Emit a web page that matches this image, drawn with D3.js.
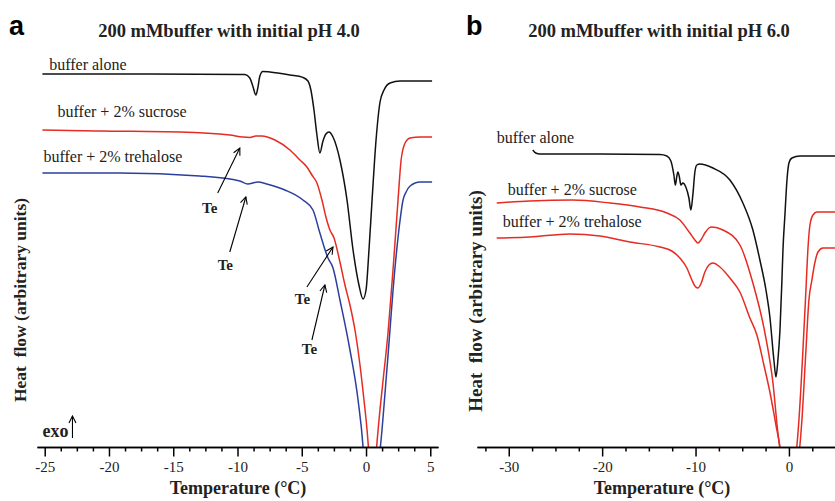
<!DOCTYPE html>
<html>
<head>
<meta charset="utf-8">
<script src="https://cdn.jsdelivr.net/npm/d3@7"></script>
<style>
  body { margin: 0; background: #fff; }
  svg { display: block; }
  .serif { font-family: "Liberation Serif", "Times New Roman", serif; }
  .tick text { font-family: "Liberation Serif", "Times New Roman", serif; font-size: 15px; }
</style>
</head>
<body>
<svg id="chart" width="835" height="501"></svg>
<script>
// ---- data (temperature in °C, heat flow in arbitrary units) ----

// panel a : initial pH 4.0
const aloneA = [
  [-25.18, 93.25], [-16.84, 93.25], [-9.43, 93.1], [-9.04, 92.25], [-8.81, 90.25], [-8.57, 88.0],
  [-8.42, 89.75], [-8.26, 92.75], [-8.03, 93.9], [-7.48, 93.75], [-5.92, 93.0], [-4.91, 92.4],
  [-4.52, 91.5], [-4.29, 89.25], [-4.05, 84.25], [-3.82, 78.0], [-3.59, 73.5], [-3.35, 76.5],
  [-3.12, 78.25], [-2.88, 78.75], [-2.57, 77.5], [-2.03, 71.75], [-1.48, 61.75], [-1.01, 49.25],
  [-0.55, 40.5], [-0.23, 37.0], [0.0, 39.25], [0.23, 49.25], [0.47, 61.75], [0.78, 76.75],
  [1.09, 86.25], [1.40, 89.25], [1.87, 91.0], [2.65, 91.5], [5.14, 91.5]
];
const sucroseA = [
  [-25.18, 79.25], [-20.73, 79.0], [-14.5, 78.75], [-10.6, 78.0], [-9.59, 77.5], [-9.04, 77.4],
  [-8.57, 77.75], [-8.11, 77.75], [-7.09, 76.75], [-5.92, 74.25], [-5.14, 71.75], [-4.6, 70.0],
  [-4.21, 68.0], [-3.82, 66.0], [-3.43, 61.75], [-3.12, 57.5], [-2.81, 54.25], [-2.49, 52.25],
  [-2.03, 46.25], [-1.64, 40.5], [-1.25, 35.5], [-0.86, 29.25], [-0.47, 20.5], [-0.16, 11.75],
  [0.08, 4.25], [0.23, -2.0], [0.31, -6.0], [0.70, -6.0], [0.78, -2.0], [1.01, 6.75],
  [1.33, 16.75], [1.71, 28.5], [2.10, 44.25], [2.49, 61.75], [2.73, 71.75], [3.04, 76.0],
  [3.43, 77.25], [4.21, 77.5], [5.14, 77.5]
];
const trehaloseA = [
  [-25.18, 68.5], [-19.17, 68.5], [-12.94, 67.75], [-9.82, 66.5], [-9.2, 65.75], [-8.42, 66.25],
  [-7.72, 65.75], [-6.31, 64.25], [-4.91, 61.75], [-4.13, 59.25], [-3.59, 53.5], [-2.96, 47.25],
  [-2.57, 44.75], [-2.03, 36.75], [-1.25, 24.25], [-0.62, 11.75], [-0.23, 0], [-0.16, -3.25],
  [0.0, -7.0], [0.86, -7.0], [1.01, -3.25], [1.17, 1.75], [1.64, 20.0], [2.26, 45.0],
  [2.65, 56.75], [2.88, 61.75], [3.12, 63.75], [3.43, 65.25], [4.21, 66.25], [5.14, 66.25]
];

// panel b : initial pH 6.0
const aloneB = [
  [-27.43, 74.25], [-27.11, 73.5], [-26.68, 73.25], [-20.25, 73.25], [-13.82, 73.1], [-13.07, 72.75],
  [-12.64, 71.5], [-12.32, 68.0], [-12.16, 65.5], [-12.0, 67.75], [-11.89, 68.75], [-11.73, 67.5],
  [-11.57, 65.5], [-11.36, 66.0], [-11.04, 65.0], [-10.71, 62.25], [-10.5, 59.25], [-10.29, 63.0],
  [-10.07, 68.75], [-9.86, 70.5], [-9.54, 70.75], [-8.14, 69.75], [-6.32, 66.75], [-4.93, 61.0],
  [-3.86, 54.25], [-3.11, 46.75], [-2.46, 39.25], [-2.04, 32.5], [-1.61, 21.75], [-1.39, 17.5],
  [-1.18, 21.75], [-0.96, 29.25], [-0.75, 41.75], [-0.64, 49.25], [-0.43, 58.0], [-0.21, 66.75],
  [0.0, 71.0], [0.32, 72.25], [1.18, 72.75], [4.93, 72.75]
];
const sucroseB = [
  [-31.29, 61.0], [-27.75, 61.5], [-23.14, 61.75], [-19.18, 61.0], [-15.96, 60.0], [-13.07, 58.5],
  [-11.68, 56.75], [-10.61, 53.5], [-10.07, 51.75], [-9.75, 51.0], [-9.43, 51.75], [-9.0, 53.5],
  [-8.57, 54.75], [-8.25, 55.0], [-7.07, 54.25], [-5.25, 50.5], [-3.86, 41.0], [-2.57, 28.5],
  [-1.71, 16.0], [-1.18, 3.5], [-0.86, -2.0], [-0.54, -5.75], [0.43, -5.75], [0.75, -2.0],
  [1.07, 6.75], [1.5, 24.25], [1.82, 39.25], [2.04, 49.75], [2.25, 55.5], [2.57, 58.0],
  [3.0, 58.75], [4.93, 58.75]
];
const trehaloseB = [
  [-31.29, 52.25], [-27.75, 52.5], [-23.46, 53.25], [-20.25, 52.75], [-17.04, 51.25], [-13.82, 50.0],
  [-12.54, 49.0], [-11.68, 47.25], [-10.93, 44.75], [-10.39, 41.75], [-10.07, 40.25], [-9.75, 39.75],
  [-9.43, 40.75], [-9.0, 43.75], [-8.57, 45.5], [-8.14, 46.0], [-7.39, 45.0], [-6.32, 42.25],
  [-5.25, 38.75], [-4.18, 32.25], [-3.43, 28.0], [-2.68, 20.5], [-2.04, 13.75], [-1.39, 5.5],
  [-0.96, 0], [-0.75, -3.25], [-0.43, -6.25], [0.75, -6.25], [1.07, -2.0], [1.39, 6.75],
  [1.82, 24.25], [2.14, 36.75], [2.46, 41.75], [2.79, 46.25], [3.11, 48.75], [3.64, 49.75],
  [4.93, 49.75]
];

// axis ticks
const majorTicksA = [-25, -20, -15, -10, -5, 0, 5];
const minorTicksA = d3.range(-25, 5.01, 1.25).filter(t => t % 5 !== 0);
const majorTicksB = [-30, -20, -10, 0];
const minorTicksB = d3.range(-32.5, 2.51, 2.5).filter(t => t % 10 !== 0);

// text labels (position in data units)
const seriesLabelsA = [
  {text: "buffer alone", t: -24.65, v: 94.25},
  {text: "buffer + 2% sucrose", t: -24.0, v: 82.5},
  {text: "buffer + 2% trehalose", t: -25.1, v: 71.25}
];
const seriesLabelsB = [
  {text: "buffer alone", t: -31.29, v: 76.1},
  {text: "buffer + 2% sucrose", t: -30.1, v: 63.0},
  {text: "buffer + 2% trehalose", t: -30.64, v: 55.0}
];
// Te arrows: tail -> head, and label spot
const teMarks = [
  {from: [-11.54, 63.5], to: [-9.82, 74.75], label: [-12.16, 58.5]},
  {from: [-10.6, 48.75], to: [-9.35, 62.5], label: [-10.95, 44.25]},
  {from: [-4.6, 40.0], to: [-2.57, 50.0], label: [-4.95, 35.75]},
  {from: [-4.21, 26.75], to: [-3.2, 40.5], label: [-4.4, 23.25]}
];

const RED = "#e62b22", BLUE = "#2b3f9e", BLACK = "#111";

const svg = d3.select("#chart");
const AXIS_Y = 447;
const y = d3.scaleLinear().domain([0, 100]).range([AXIS_Y, 47]);

// arrow heads
svg.append("defs").append("marker")
  .attr("id", "arrow")
  .attr("viewBox", "-9 -5 10 10")
  .attr("refX", 0).attr("refY", 0)
  .attr("markerWidth", 10).attr("markerHeight", 10)
  .attr("markerUnits", "userSpaceOnUse")
  .attr("orient", "auto")
  .append("path")
  .attr("d", "M-7,-3.5L0,0L-7,3.5")
  .attr("fill", "none").attr("stroke", "#000").attr("stroke-width", 1.1);

svg.select("defs").append("clipPath").attr("id", "clip")
  .append("rect").attr("x", 0).attr("y", 0).attr("width", 835).attr("height", AXIS_Y);

function drawPanel(opt) {
  const x = d3.scaleLinear().domain(opt.domain).range(opt.range);
  const g = svg.append("g");

  const line = d3.line()
    .x(d => x(d[0]))
    .y(d => y(d[1]))
    .curve(d3.curveMonotoneX);

  g.append("g").attr("clip-path", "url(#clip)")
    .selectAll("path")
    .data(opt.series)
    .join("path")
    .attr("d", d => line(d.values))
    .attr("fill", "none")
    .attr("stroke", d => d.color)
    .attr("stroke-width", 1.5)
    .attr("stroke-linejoin", "round");

  // minor ticks
  g.append("g")
    .attr("transform", `translate(0,${AXIS_Y})`)
    .call(d3.axisBottom(x).tickValues(opt.minor).tickSize(4.5).tickSizeOuter(0).tickFormat(""))
    .call(s => s.selectAll("line, path").attr("stroke", "#000").attr("stroke-width", 1.5));

  // major ticks + labels
  g.append("g")
    .attr("transform", `translate(0,${AXIS_Y})`)
    .call(d3.axisBottom(x).tickValues(opt.major).tickSize(9.5).tickSizeOuter(0)
      .tickFormat(d => String(d)).tickPadding(5))
    .call(s => s.selectAll("line, path").attr("stroke", "#000").attr("stroke-width", 1.5))
    .call(s => s.selectAll("text").attr("fill", "#222"));

  // series labels
  g.selectAll("text.series")
    .data(opt.labels)
    .join("text")
    .attr("class", "series serif")
    .attr("x", d => x(d.t))
    .attr("y", d => y(d.v))
    .attr("font-size", 16)
    .attr("fill", "#222")
    .text(d => d.text);

  // title + panel letter
  g.append("text").attr("class", "serif")
    .attr("x", opt.titleX).attr("y", 37)
    .attr("text-anchor", "middle")
    .attr("font-size", 18.5).attr("font-weight", "bold").attr("fill", "#222")
    .text(opt.title);
  g.append("text")
    .attr("x", opt.letterX).attr("y", 35)
    .attr("font-family", "Liberation Sans, Arial, sans-serif")
    .attr("font-size", 27).attr("font-weight", "bold")
    .text(opt.letter);

  // axis titles
  g.append("text").attr("class", "serif")
    .attr("x", opt.xLabelX).attr("y", 494)
    .attr("text-anchor", "middle")
    .attr("font-size", 18).attr("font-weight", "bold").attr("fill", "#222")
    .text("Temperature (°C)");
  g.append("text").attr("class", "serif")
    .attr("transform", `translate(${opt.yLabelX},${opt.yLabelY}) rotate(-90)`)
    .attr("text-anchor", "middle")
    .attr("font-size", opt.yLabelSize).attr("font-weight", "bold").attr("fill", "#222")
    .attr("xml:space", "preserve")
    .text("Heat  flow (arbitrary units)");

  return {g, x};
}

const pa = drawPanel({
  domain: [-25.6, 5.6], range: [37, 438],
  series: [
    {values: aloneA, color: BLACK},
    {values: sucroseA, color: RED},
    {values: trehaloseA, color: BLUE}
  ],
  major: majorTicksA, minor: minorTicksA, labels: seriesLabelsA,
  title: "200 mMbuffer with initial pH 4.0", titleX: 229,
  letter: "a", letterX: 9,
  xLabelX: 238, yLabelX: 26, yLabelY: 300, yLabelSize: 17.5
});

drawPanel({
  domain: [-33.4, 4.9], range: [477, 834.7],
  series: [
    {values: aloneB, color: BLACK},
    {values: sucroseB, color: RED},
    {values: trehaloseB, color: RED}
  ],
  major: majorTicksB, minor: minorTicksB, labels: seriesLabelsB,
  title: "200 mMbuffer with initial pH 6.0", titleX: 659,
  letter: "b", letterX: 466,
  xLabelX: 662, yLabelX: 482, yLabelY: 301, yLabelSize: 19
});

// Te annotations (panel a)
const xa = pa.x;
pa.g.selectAll("line.te")
  .data(teMarks)
  .join("line")
  .attr("class", "te")
  .attr("x1", d => xa(d.from[0])).attr("y1", d => y(d.from[1]))
  .attr("x2", d => xa(d.to[0])).attr("y2", d => y(d.to[1]))
  .attr("stroke", "#000").attr("stroke-width", 1.1)
  .attr("marker-end", "url(#arrow)");
pa.g.selectAll("text.te")
  .data(teMarks)
  .join("text")
  .attr("class", "te serif")
  .attr("x", d => xa(d.label[0])).attr("y", d => y(d.label[1]))
  .attr("text-anchor", "middle")
  .attr("font-size", 15).attr("font-weight", "bold").attr("fill", "#222")
  .text("Te");

// exo marker
pa.g.append("text").attr("class", "serif")
  .attr("x", xa(-25.18)).attr("y", y(2.5))
  .attr("font-size", 18).attr("font-weight", "bold").attr("fill", "#222")
  .text("exo");
pa.g.append("line")
  .attr("x1", xa(-22.84)).attr("y1", y(2.25))
  .attr("x2", xa(-22.84)).attr("y2", y(7.75))
  .attr("stroke", "#000").attr("stroke-width", 1.1)
  .attr("marker-end", "url(#arrow)");
</script>
</body>
</html>
